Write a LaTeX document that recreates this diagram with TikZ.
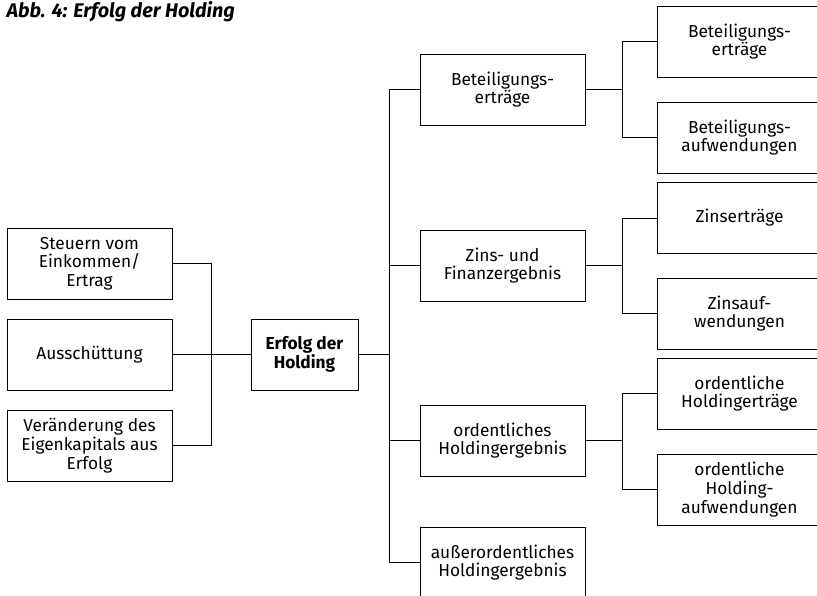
\documentclass[tikz,border=0pt]{standalone}
\usepackage{fontspec}
\setmainfont{Fira Sans}
\begin{document}
\begin{tikzpicture}[x=1pt,y=-1pt,
  box/.style={draw, line width=0.9pt, minimum width=165pt, minimum height=71pt, align=center, inner sep=2pt,
    font=\fontsize{17.3}{18.7}\selectfont},
  link/.style={draw, line width=0.9pt}]
\useasboundingbox (0,0) rectangle (817,595);
\clip (0,0) rectangle (817,595);
\node[anchor=west, font=\fontsize{19.8}{22}\selectfont\bfseries\itshape] (title) at (3,12) {Abb. 4: Erfolg der Holding};
% left
\node[box] (st) at (89.5,263.5) {Steuern vom\\Einkommen/\\Ertrag};
\node[box] (au) at (89.5,354.5) {Ausschüttung};
\node[box] (ve) at (89.5,445.5) {Veränderung des\\Eigenkapitals aus\\Erfolg};
\node[box, minimum width=107pt] (er) at (304.5,354.5) {\bfseries Erfolg der\\\bfseries Holding};
% middle
\node[box] (be) at (502.5,89.5) {Beteiligungs-\\erträge};
\node[box] (zi) at (502.5,265.5) {Zins- und\\Finanzergebnis};
\node[box] (oh) at (502.5,440.5) {ordentliches\\Holdingergebnis};
\node[box] (ao) at (502.5,562.5) {außerordentliches\\Holdingergebnis};
% right
\node[box] (r1) at (739.5,41.5) {Beteiligungs-\\erträge};
\node[box] (r2) at (739.5,137.5) {Beteiligungs-\\aufwendungen};
\node[box] (r3) at (739.5,218) {Zinserträge};
\node[box] (r4) at (739.5,313.5) {Zinsauf-\\wendungen};
\node[box] (r5) at (739.5,393.5) {ordentliche\\Holdingerträge};
\node[box] (r6) at (739.5,489.5) {ordentliche\\Holding-\\aufwendungen};
% left bus
\coordinate (lb) at (211,354.5);
\draw[link] (st.east) -| (lb);
\draw[link] (ve.east) -| (lb);
\draw[link] (au.east) -- (er.west);
% right bus
\coordinate (rb) at (389,354.5);
\draw[link] (er.east) -- (rb);
\draw[link] (be.west) -| (rb);
\draw[link] (ao.west) -| (rb);
\draw[link] (zi.west) -- (zi.west -| rb);
\draw[link] (oh.west) -- (oh.west -| rb);
% sub buses
\coordinate (s1) at (622,89.5);
\draw[link] (be.east) -- (s1);
\draw[link] (r1.west) -| (s1);
\draw[link] (r2.west) -| (s1);
\coordinate (s2) at (622,265.5);
\draw[link] (zi.east) -- (s2);
\draw[link] (r3.west) -| (s2);
\draw[link] (r4.west) -| (s2);
\coordinate (s3) at (622,440.5);
\draw[link] (oh.east) -- (s3);
\draw[link] (r5.west) -| (s3);
\draw[link] (r6.west) -| (s3);
\end{tikzpicture}
\end{document}
